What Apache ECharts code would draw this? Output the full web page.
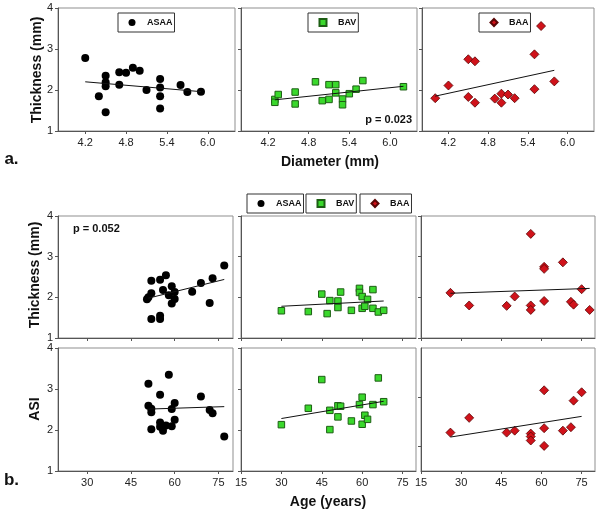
<!DOCTYPE html>
<html><head><meta charset="utf-8">
<script src="https://cdn.jsdelivr.net/npm/echarts@6/dist/echarts.min.js"></script>
<style>html,body{margin:0;padding:0;background:#fff}#c{width:601px;height:512px}</style>
</head><body><div id="c"></div>
<script>
// ---------- DATA ----------
// a. Thickness vs Diameter
const asaaDiam   = [4.2, 4.4, 4.5, 4.5, 4.5, 4.5, 4.7, 4.7, 4.8, 4.9, 5.0, 5.1, 5.3, 5.3, 5.3, 5.3, 5.6, 5.7, 5.9];
const asaaThickD = [2.78, 1.85, 2.35, 2.19, 2.09, 1.46, 2.43, 2.13, 2.42, 2.54, 2.47, 2.00, 2.27, 2.06, 1.85, 1.55, 2.12, 1.95, 1.96];
const asaaFitD   = [[4.2, 2.20], [5.9, 1.96]];

const bavDiam    = [4.3, 4.3, 4.35, 4.6, 4.6, 4.9, 5.0, 5.1, 5.1, 5.2, 5.2, 5.3, 5.3, 5.4, 5.5, 5.6, 6.2];
const bavThickD  = [1.77, 1.70, 1.89, 1.95, 1.66, 2.20, 1.74, 2.13, 1.77, 2.13, 1.93, 1.78, 1.64, 1.91, 2.02, 2.23, 2.08];
const bavFitD    = [[4.3, 1.76], [6.2, 2.09]];

const baaDiam    = [4.0, 4.2, 4.5, 4.6, 4.5, 4.6, 4.9, 5.0, 5.0, 5.1, 5.2, 5.5, 5.5, 5.6, 5.8];
const baaThickD  = [1.80, 2.11, 2.75, 2.70, 1.83, 1.69, 1.79, 1.91, 1.69, 1.89, 1.80, 2.87, 2.02, 3.56, 2.21];
const baaFitD    = [[4.0, 1.85], [5.8, 2.48]];

// b. Thickness vs Age
const asaaAgeT   = [50.5, 51, 52, 52, 52, 55, 55, 55, 56, 57, 58, 59, 59, 60, 60, 66, 69, 72, 73, 77];
const asaaThickA = [1.95, 2.00, 2.10, 2.41, 1.47, 2.43, 1.55, 1.47, 2.18, 2.54, 2.05, 2.27, 1.85, 2.13, 1.96, 2.14, 2.35, 1.86, 2.47, 2.78];
const asaaFitTA  = [[51, 1.98], [77, 2.44]];

const bavAgeT    = [30, 40, 45, 47, 48, 51, 51, 52, 56, 59, 59, 60, 60, 61, 62, 64, 64, 66, 68];
const bavThickA  = [1.67, 1.65, 2.08, 1.60, 1.92, 1.91, 1.75, 2.13, 1.68, 2.22, 2.12, 2.02, 1.73, 1.78, 1.95, 2.19, 1.73, 1.64, 1.68];
const bavFitTA   = [[30, 1.78], [68, 1.91]];

const baaAgeT    = [26, 33, 47, 50, 56, 56, 56, 61, 61, 61, 68, 71, 72, 75, 78];
const baaThickA  = [2.11, 1.80, 1.79, 2.02, 3.56, 1.80, 1.69, 2.75, 2.70, 1.91, 2.86, 1.89, 1.82, 2.20, 1.69];
const baaFitTA   = [[26, 2.10], [78, 2.22]];

// b. ASI vs Age
const asaaAgeS   = [51, 51, 52, 52, 52, 55, 55, 55, 56, 57, 58, 59, 59, 60, 60, 69, 72, 73, 77];
const asaaASI    = [3.13, 2.59, 2.52, 2.43, 2.02, 2.86, 2.18, 2.08, 1.98, 2.11, 3.35, 2.51, 2.09, 2.66, 2.25, 2.82, 2.49, 2.41, 1.84];
const asaaFitSA  = [[51, 2.51], [77, 2.57]];

const bavAgeS    = [30, 40, 45, 48, 48, 51, 52, 51, 56, 59, 60, 60, 61, 62, 64, 66, 68];
const bavASI     = [2.13, 2.53, 3.23, 2.01, 2.48, 2.59, 2.58, 2.32, 2.22, 2.62, 2.80, 2.14, 2.36, 2.26, 2.62, 3.27, 2.69];
const bavFitSA   = [[30, 2.28], [68, 2.70]];

const baaAgeS    = [26, 33, 47, 50, 56, 56, 56, 61, 61, 61, 68, 71, 72, 75];
const baaASI     = [2.28, 2.58, 2.28, 2.32, 2.26, 2.20, 2.12, 3.14, 2.37, 2.01, 2.32, 2.39, 2.93, 3.10];
const baaFitSA   = [[26, 2.19], [75, 2.61]];

// tick labels
const diamTicks = [4.2, 4.8, 5.4, 6.0];
const ageTicksL = [30, 45, 60, 75];
const ageTicks  = [15, 30, 45, 60, 75];
const yTicks    = [1, 2, 3, 4];
const yTicksASI = [2, 3];
const groups = ['ASAA', 'BAV', 'BAA'];

// ---------- STYLE ----------
const FF = '"Liberation Sans", Arial, Helvetica, sans-serif';
const sty = {
  ASAA: {symbol: 'circle', symbolSize: 8, itemStyle: {color: '#000', borderColor: '#000', borderWidth: 0, opacity: 1}},
  BAV:  {symbol: 'rect', symbolSize: 6.5, itemStyle: {color: '#3ad82c', borderColor: '#1d5e14', borderWidth: 1, opacity: 1}},
  BAA:  {symbol: 'diamond', symbolSize: 9, itemStyle: {color: '#d0121a', borderColor: '#5a0505', borderWidth: 0.8, opacity: 1}}
};

const grids = [
  {left: 58,  top: 8,   width: 177, height: 123},
  {left: 241, top: 8,   width: 176, height: 123},
  {left: 422, top: 8,   width: 172, height: 123},
  {left: 58,  top: 216, width: 175, height: 122},
  {left: 241, top: 216, width: 175, height: 122},
  {left: 421, top: 216, width: 174, height: 122},
  {left: 58,  top: 348, width: 175, height: 123},
  {left: 241, top: 348, width: 175, height: 123},
  {left: 421, top: 348, width: 174, height: 123}
].map(g => Object.assign({show: true, borderColor: '#8f8f8f', borderWidth: 1, backgroundColor: 'transparent', containLabel: false}, g));

function xAx(gi, min, max, ticks, showLabels, dec) {
  return {
    type: 'value', gridIndex: gi, min: min, max: max, splitLine: {show: false},
    axisLine: {show: true, onZero: false, lineStyle: {color: '#555', width: 1}},
    axisTick: {show: true, length: 3, inside: false, customValues: ticks, lineStyle: {color: '#555'}},
    axisLabel: {show: showLabels, customValues: ticks, margin: 6, fontSize: 11, color: '#222', fontFamily: FF,
      formatter: v => dec ? Number(v).toFixed(1) : String(v)}
  };
}
function yAx(gi, min, max, ticks, showLabels) {
  return {
    type: 'value', gridIndex: gi, min: min, max: max, splitLine: {show: false},
    axisLine: {show: true, onZero: false, lineStyle: {color: '#555', width: 1}},
    axisTick: {show: true, length: 3, inside: false, customValues: ticks, lineStyle: {color: '#555'}},
    axisLabel: {show: showLabels, customValues: ticks, margin: 5, fontSize: 11, color: '#222', fontFamily: FF}
  };
}

const xAxis = [
  xAx(0, 3.8, 6.4, diamTicks, true, true),
  xAx(1, 3.8, 6.4, diamTicks, true, true),
  xAx(2, 3.8, 6.4, diamTicks, true, true),
  xAx(3, 20, 80, ageTicksL, false, false),
  xAx(4, 15, 80, ageTicks, false, false),
  xAx(5, 15, 80, ageTicks, false, false),
  xAx(6, 20, 80, ageTicksL, true, false),
  xAx(7, 15, 80, ageTicks, true, false),
  xAx(8, 15, 80, ageTicks, true, false)
];
const yAxis = [
  yAx(0, 1, 4, yTicks, true), yAx(1, 1, 4, yTicks, false), yAx(2, 1, 4, yTicks, false),
  yAx(3, 1, 4, yTicks, true), yAx(4, 1, 4, yTicks, false), yAx(5, 1, 4, yTicks, false),
  yAx(6, 1, 4, yTicks, true), yAx(7, 1, 4, yTicks, false), yAx(8, 1.5, 4, yTicksASI, false)
];

const zip = (a, b) => a.map((v, i) => [v, b[i]]);
const panels = [
  ['ASAA', asaaDiam, asaaThickD, asaaFitD],
  ['BAV',  bavDiam,  bavThickD,  bavFitD],
  ['BAA',  baaDiam,  baaThickD,  baaFitD],
  ['ASAA', asaaAgeT, asaaThickA, asaaFitTA],
  ['BAV',  bavAgeT,  bavThickA,  bavFitTA],
  ['BAA',  baaAgeT,  baaThickA,  baaFitTA],
  ['ASAA', asaaAgeS, asaaASI,    asaaFitSA],
  ['BAV',  bavAgeS,  bavASI,     bavFitSA],
  ['BAA',  baaAgeS,  baaASI,     baaFitSA]
];
const series = [];
panels.forEach((p, i) => {
  const s = sty[p[0]];
  series.push({
    name: p[0], type: 'scatter', xAxisIndex: i, yAxisIndex: i,
    data: zip(p[1], p[2]), symbol: s.symbol, symbolSize: s.symbolSize, itemStyle: s.itemStyle,
    silent: true, animation: false, z: 3
  });
  series.push({
    name: 'fit' + i, type: 'line', xAxisIndex: i, yAxisIndex: i, data: p[3],
    symbol: 'none', lineStyle: {color: '#111', width: 1}, silent: true, animation: false, z: 4
  });
});

function lg(name, left, top) {
  return {
    show: true, data: [name], left: left, top: top, orient: 'horizontal',
    borderColor: '#333', borderWidth: 1, borderRadius: 0, padding: [5, 2, 5, 10.5],
    itemWidth: 7, itemHeight: 7, itemGap: 0, selectedMode: false,
    itemStyle: {opacity: 1},
    textStyle: {fontSize: 9, fontWeight: 'bold', color: '#111', fontFamily: FF, padding: [0, 0, 0, 6.5]}
  };
}
const legend = [
  lg('ASAA', 118, 13), lg('BAV', 308, 13), lg('BAA', 479, 13),
  lg('ASAA', 247, 194), lg('BAV', 306, 194), lg('BAA', 360, 194)
];

function txt(t, x, y, size, opts) {
  return Object.assign({
    type: 'text', x: x, y: y, silent: true,
    style: Object.assign({text: t, fontSize: size, fontWeight: 'bold', fontFamily: FF, fill: '#111',
      align: 'center', verticalAlign: 'middle'}, (opts && opts.style) || {})
  }, (opts && opts.el) || {});
}
const graphic = [
  txt('Thickness (mm)', 37.5, 70, 14, {el: {rotation: Math.PI / 2}}),
  txt('Thickness (mm)', 35.5, 275, 14, {el: {rotation: Math.PI / 2}}),
  txt('ASI', 35, 409, 14, {el: {rotation: Math.PI / 2}}),
  txt('Diameter (mm)', 330, 162, 14),
  txt('Age (years)', 328, 502, 14),
  txt('a.', 11.5, 159, 17),
  txt('b.', 11.5, 480, 17),
  txt('p = 0.023', 412, 120, 11, {style: {align: 'right'}}),
  txt('p = 0.052', 73, 229, 11, {style: {align: 'left'}})
];

const chart = echarts.init(document.getElementById('c'), null, {renderer: 'canvas', width: 601, height: 512});
chart.setOption({
  animation: false,
  backgroundColor: '#fff',
  grid: grids, xAxis: xAxis, yAxis: yAxis, series: series, legend: legend, graphic: graphic
});
</script></body></html>
